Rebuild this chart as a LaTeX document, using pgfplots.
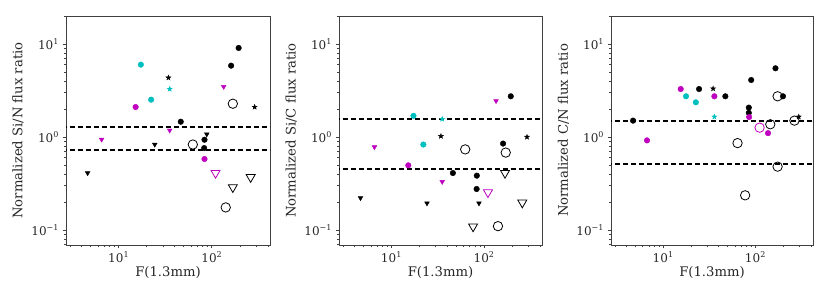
\documentclass[border=0pt]{standalone}
\usepackage{pgfplots}
\pgfplotsset{compat=1.18}
\usepackage{fontspec}
\setmainfont{DejaVu Serif}
\usetikzlibrary{plotmarks}
\definecolor{mc}{rgb}{0.75,0,0.75}
\definecolor{cc}{rgb}{0,0.75,0.75}
\newcommand{\tf}{\fontsize{12}{14}\selectfont}
\newcommand{\lf}{\fontsize{13.2}{15}\selectfont}
\pgfdeclareplotmark{fstar}{%
  \pgfpathmoveto{\pgfpointpolar{90}{\pgfplotmarksize}}%
  \pgfpathlineto{\pgfpointpolar{126}{0.4\pgfplotmarksize}}%
  \pgfpathlineto{\pgfpointpolar{162}{\pgfplotmarksize}}%
  \pgfpathlineto{\pgfpointpolar{198}{0.4\pgfplotmarksize}}%
  \pgfpathlineto{\pgfpointpolar{234}{\pgfplotmarksize}}%
  \pgfpathlineto{\pgfpointpolar{270}{0.4\pgfplotmarksize}}%
  \pgfpathlineto{\pgfpointpolar{306}{\pgfplotmarksize}}%
  \pgfpathlineto{\pgfpointpolar{342}{0.4\pgfplotmarksize}}%
  \pgfpathlineto{\pgfpointpolar{18}{\pgfplotmarksize}}%
  \pgfpathlineto{\pgfpointpolar{54}{0.4\pgfplotmarksize}}%
  \pgfpathclose\pgfusepathqfillstroke}
\pgfplotsset{
  pfc/.style={only marks, mark=*, mark size=2.8pt, color=#1},
  poc/.style={only marks, mark=o, mark size=4.7pt, color=#1, mark options={line width=0.8pt}},
  pft/.style={only marks, mark=triangle*, mark size=2.7pt, color=#1, mark options={rotate=180}},
  pot/.style={only marks, mark=triangle, mark size=5.2pt, color=#1, mark options={rotate=180, line width=0.8pt}},
  pst/.style={only marks, mark=fstar, mark size=2.6pt, color=#1},
  pdl/.style={black, dash pattern=on 5.5pt off 2.5pt, line width=1.8pt, no marks, forget plot},
}
\begin{document}
\begin{tikzpicture}
\path[use as bounding box] (0pt,0pt) rectangle (830pt,297pt);
\pgfplotsset{every axis/.append style={
    xmode=log, ymode=log, scale only axis, anchor=south west,
    height=229pt, xmin=2.72, xmax=421, ymin=0.069, ymax=20,
    axis line style={black!75, line width=0.8pt},
    tick style={black!75, line width=0.7pt},
    tick align=outside, xtick pos=bottom, ytick pos=left,
    major tick length=3.5pt, minor tick length=2pt,
    xtick={10,100}, xticklabels={{\tf 10\textsuperscript{1}},{\tf 10\textsuperscript{2}}},
    ytick={0.1,1,10}, yticklabels={{\tf 10\textsuperscript{−1}},{\tf 10\textsuperscript{0}},{\tf 10\textsuperscript{1}}},
    minor xtick={3,4,5,6,7,8,9,20,30,40,50,60,70,80,90,200,300,400},
    minor ytick={0.07,0.08,0.09,0.2,0.3,0.4,0.5,0.6,0.7,0.8,0.9,2,3,4,5,6,7,8,9,20},
    tick label style={text=black!85},
    label style={text=black!85},
    xlabel={\lf F(1.3mm)},
    xlabel style={at={(axis description cs:0.5,0)}, yshift=-28pt, anchor=center},
    ylabel style={at={(axis description cs:-0.235,0.5)}, anchor=center},
  }}
% Panel 1
\begin{axis}[at={(66pt,52pt)}, width=204pt, ylabel={\lf Normalized Si/N flux ratio}]
\addplot[pdl] coordinates {(2,1.27) (500,1.27)};
\addplot[pdl] coordinates {(2,0.725) (500,0.725)};
\addplot[pfc=black] coordinates {(46.4,1.46) (83.4,0.935) (82.7,0.76) (161,5.85) (194,9.06)};
\addplot[pfc=cc] coordinates {(17.3,6.0) (22.3,2.52)};
\addplot[pfc=mc] coordinates {(15.2,2.1) (83.4,0.58)};
\addplot[pft=black] coordinates {(4.64,0.41) (24.4,0.83) (88.3,1.07)};
\addplot[pft=mc] coordinates {(35.3,1.18) (6.56,0.94) (134,3.47)};
\addplot[pst=black] coordinates {(34.2,4.34) (288,2.1)};
\addplot[pst=cc] coordinates {(35.3,3.28)};
\addplot[poc=black] coordinates {(62.5,0.83) (168,2.28) (141,0.175)};
\addplot[pot=black] coordinates {(168,0.288) (261,0.37)};
\addplot[pot=mc] coordinates {(109.6,0.41)};
\end{axis}
% Panel 2
\begin{axis}[at={(339pt,52pt)}, width=203pt, ylabel={\lf Normalized Si/C flux ratio}]
\addplot[pdl] coordinates {(2,1.56) (500,1.56)};
\addplot[pdl] coordinates {(2,0.453) (500,0.453)};
\addplot[pfc=black] coordinates {(194,2.74) (160,0.85) (46,0.41) (83.4,0.384) (83,0.276)};
\addplot[pfc=cc] coordinates {(17.3,1.69) (22.1,0.83)};
\addplot[pfc=mc] coordinates {(15.2,0.496)};
\addplot[pst=cc] coordinates {(35.3,1.56)};
\addplot[pst=black] coordinates {(34.2,1.02) (290,1.0)};
\addplot[pft=mc] coordinates {(134.5,2.44) (6.56,0.78) (35.3,0.33)};
\addplot[pft=black] coordinates {(4.64,0.221) (24.2,0.194) (88,0.194)};
\addplot[poc=black] coordinates {(62.5,0.736) (171,0.68) (141,0.11)};
\addplot[pot=black] coordinates {(168,0.41) (258,0.197) (76,0.109)};
\addplot[pot=mc] coordinates {(110,0.254)};
\end{axis}
% Panel 3
\begin{axis}[at={(611pt,52pt)}, width=202pt, ylabel={\lf Normalized C/N flux ratio}]
\addplot[pdl] coordinates {(2,1.5) (500,1.5)};
\addplot[pdl] coordinates {(2,0.516) (500,0.516)};
\addplot[pfc=black] coordinates {(4.72,1.5) (24.5,3.28) (47.2,2.74) (90,4.1) (84.8,2.07) (84.8,1.82) (165,5.48) (199,2.74)};
\addplot[pfc=mc] coordinates {(6.68,0.92) (15.5,3.28) (35.9,2.74) (85.5,1.64) (137,1.1)};
\addplot[pfc=cc] coordinates {(17.7,2.74) (22.6,2.36)};
\addplot[pst=black] coordinates {(34.8,3.31) (295,1.65)};
\addplot[pst=cc] coordinates {(35.9,1.65)};
\addplot[poc=black] coordinates {(64,0.86) (145,1.37) (174,2.74) (265,1.5) (174,0.48) (77.4,0.236)};
\addplot[poc=mc] coordinates {(111,1.26)};
\end{axis}
\end{tikzpicture}
\end{document}
